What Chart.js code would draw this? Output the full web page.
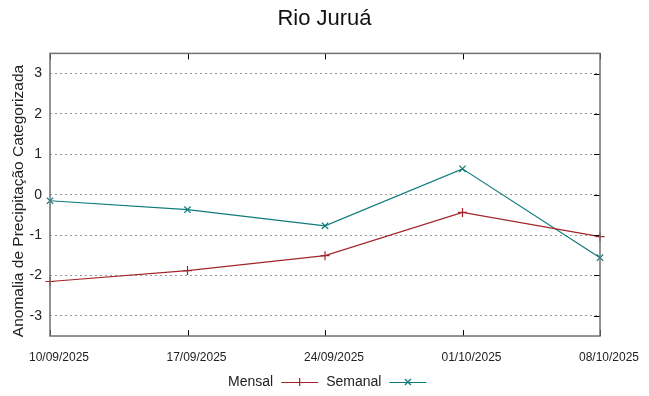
<!DOCTYPE html>
<html>
<head>
<meta charset="utf-8">
<script src="https://cdn.jsdelivr.net/npm/chart.js@4"></script>
<style>
  body { margin: 0; background: #fff; }
  #wrap { width: 649px; height: 396px; }
</style>
</head>
<body>
<div id="wrap"><canvas id="chart" width="649" height="396"></canvas></div>
<script>
const chartTitle = 'Rio Juruá';
const yTitle = 'Anomalia de Precipitação Categorizada';
const dates = ['10/09/2025', '17/09/2025', '24/09/2025', '01/10/2025', '08/10/2025'];
const mensal = [-2.15, -1.88, -1.51, -0.44, -1.04];
const semanal = [-0.15, -0.37, -0.77, 0.64, -1.56];
const yTicks = [-3, -2, -1, 0, 1, 2, 3];

const redColor = '#a3252b';
const tealColor = '#0e7b7b';
const fontName = '"Liberation Sans", Arial, sans-serif';

// moldura do gráfico com marcas de escala para dentro, título do eixo y e legenda embaixo
const framePlugin = {
    id: 'frame',
    afterDatasetsDraw(chart) {
        const ctx = chart.ctx;
        const a = chart.chartArea;
        const xs = chart.scales.x;
        const ys = chart.scales.y;
        ctx.save();
        ctx.strokeStyle = '#000';
        ctx.lineWidth = 1;
        ctx.beginPath();
        dates.forEach((d, i) => {
            const px = Math.round(xs.getPixelForValue(i)) + 0.5;
            ctx.moveTo(px, a.bottom); ctx.lineTo(px, a.bottom - 6);
            ctx.moveTo(px, a.top); ctx.lineTo(px, a.top + 6);
        });
        yTicks.forEach(v => {
            const py = Math.round(ys.getPixelForValue(v)) + 0.5;
            ctx.moveTo(a.right, py); ctx.lineTo(a.right - 6, py);
        });
        ctx.stroke();
        ctx.strokeStyle = '#707070';
        ctx.lineWidth = 1.5;
        ctx.strokeRect(a.left, a.top, a.right - a.left, a.bottom - a.top);

        // título do eixo y
        ctx.save();
        ctx.translate(19, 201);
        ctx.rotate(-Math.PI / 2);
        ctx.font = '15.5px ' + fontName;
        ctx.textAlign = 'center';
        ctx.textBaseline = 'middle';
        ctx.fillStyle = '#222';
        ctx.fillText(yTitle, 0, 0);
        ctx.restore();

        // legenda
        ctx.font = '14px ' + fontName;
        ctx.textBaseline = 'middle';
        ctx.fillStyle = '#222';
        const ly = 382;
        let lx = 228;
        chart.data.datasets.forEach(ds => {
            ctx.fillText(ds.label, lx, ly);
            const w = ctx.measureText(ds.label).width;
            const x0 = lx + w + 8;
            const x1 = x0 + 37;
            const mx = (x0 + x1) / 2;
            ctx.strokeStyle = ds.borderColor;
            ctx.lineWidth = 1.2;
            ctx.beginPath();
            ctx.moveTo(x0, ly + 0.5); ctx.lineTo(x1, ly + 0.5);
            if (ds.pointStyle === 'cross') {
                ctx.moveTo(mx, ly - 4); ctx.lineTo(mx, ly + 4);
            } else {
                ctx.moveTo(mx - 3, ly - 3); ctx.lineTo(mx + 3, ly + 3);
                ctx.moveTo(mx + 3, ly - 3); ctx.lineTo(mx - 3, ly + 3);
            }
            ctx.stroke();
            lx = x1 + 8;
        });
        ctx.restore();
    }
};

const ctx = document.getElementById('chart').getContext('2d');
new Chart(ctx, {
    type: 'line',
    data: {
        labels: dates,
        datasets: [{
            label: 'Mensal',
            data: mensal,
            borderColor: redColor,
            backgroundColor: redColor,
            borderWidth: 1.2,
            pointStyle: 'cross',
            pointRadius: 4.5,
            pointBorderWidth: 1.2,
            tension: 0,
            fill: false
        }, {
            label: 'Semanal',
            data: semanal,
            borderColor: tealColor,
            backgroundColor: tealColor,
            borderWidth: 1.2,
            pointStyle: 'crossRot',
            pointRadius: 4.5,
            pointBorderWidth: 1.2,
            tension: 0,
            fill: false
        }]
    },
    options: {
        responsive: false,
        animation: false,
        layout: { padding: 0 },
        plugins: {
            legend: { display: false },
            tooltip: { enabled: false },
            title: {
                display: true,
                text: chartTitle,
                color: '#111',
                font: { family: fontName, size: 22, weight: 'normal' },
                padding: { top: 6, bottom: 21 }
            }
        },
        scales: {
            x: {
                type: 'category',
                offset: false,
                grid: { display: false, drawTicks: false },
                border: { display: false },
                ticks: {
                    color: '#222',
                    font: { family: fontName, size: 12 },
                    padding: 14,
                    labelOffset: 9,
                    maxRotation: 0,
                    autoSkip: false
                },
                afterFit(scale) { scale.height = 60; }
            },
            y: {
                min: -3.5,
                max: 3.5,
                afterBuildTicks(scale) { scale.ticks = yTicks.map(v => ({ value: v })); },
                grid: {
                    color: '#999',
                    lineWidth: 1,
                    drawTicks: false
                },
                border: { display: false, dash: [2, 3] },
                ticks: {
                    color: '#222',
                    font: { family: fontName, size: 14 },
                    padding: 8
                },
                afterFit(scale) { scale.width = 50; }
            },
            // eixo vazio à direita só para reservar o espaço da margem
            yRight: {
                position: 'right',
                min: -3.5,
                max: 3.5,
                grid: { display: false, drawTicks: false },
                border: { display: false },
                ticks: { display: false },
                afterFit(scale) { scale.width = 49; }
            }
        }
    },
    plugins: [framePlugin]
});
</script>
</body>
</html>
